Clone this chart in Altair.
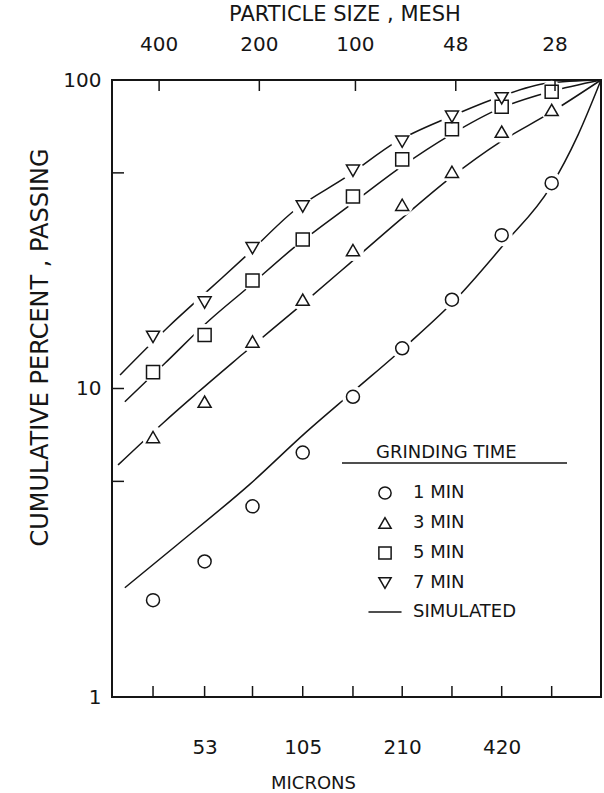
import altair as alt
import pandas as pd

# ---- data ----
sizes = [37, 53, 74, 105, 149, 210, 297, 420, 595]
min1 = [2.06, 2.75, 4.15, 6.2, 9.4, 13.5, 19.4, 31.4, 46.3]
min3 = [6.96, 9.06, 14.2, 19.4, 28.1, 39.4, 50.4, 68.0, 80.0]
min5 = [11.3, 14.9, 22.4, 30.4, 41.9, 55.3, 69.2, 81.9, 91.6]
min7_sizes = [37, 53, 74, 105, 149, 210, 297, 420]
min7 = [14.7, 19.0, 28.5, 38.9, 50.8, 63.1, 76.0, 87.2]

sim1_size = [30.4, 43.7, 72.7, 106.7, 151.1, 217.1, 307.6, 429.7, 588, 714.5, 839]
sim1_pct = [2.26, 3.11, 4.90, 7.17, 9.89, 13.84, 19.65, 29.6, 44.7, 66.3, 100]
sim3_size = [29.0, 39.7, 69.3, 103, 146, 206.8, 293, 415, 588, 839]
sim3_pct = [5.65, 7.73, 12.96, 18.5, 25.5, 35.2, 48.1, 62.9, 78.2, 100]
sim5_size = [30.4, 40.2, 55.0, 71.1, 98.3, 146, 209, 293, 415, 588, 839]
sim5_pct = [9.06, 12.07, 16.7, 21.1, 28.5, 39.3, 52.4, 66.3, 80.9, 91.6, 100]
sim7_size = [29.4, 41.2, 53.8, 70.2, 99.5, 142.6, 202, 293, 415, 574.6, 839]
sim7_pct = [11.06, 15.86, 20.6, 26.7, 37.9, 48.6, 63.1, 76.0, 88.3, 97.6, 100]

legend_domain = ["1 MIN", "3 MIN", "5 MIN", "7 MIN", "SIMULATED"]

bottom_tick_sizes = [37, 53, 74, 105, 149, 210, 297, 420, 595]
bottom_label_sizes = [53, 105, 210, 420]
mesh_labels = ["400", "200", "100", "48", "28"]
mesh_microns = [38.6, 77.6, 151.6, 305, 609]
y_label_values = [1, 10, 100]
y_tick_values = [5, 10, 50]

# ---- tables ----
pts = pd.concat([
    pd.DataFrame({"size": sizes, "pct": min1, "series": "1 MIN"}),
    pd.DataFrame({"size": sizes, "pct": min3, "series": "3 MIN"}),
    pd.DataFrame({"size": sizes, "pct": min5, "series": "5 MIN"}),
    pd.DataFrame({"size": min7_sizes, "pct": min7, "series": "7 MIN"}),
], ignore_index=True)

sim = pd.concat([
    pd.DataFrame({"size": sim1_size, "pct": sim1_pct, "curve": "1 MIN"}),
    pd.DataFrame({"size": sim3_size, "pct": sim3_pct, "curve": "3 MIN"}),
    pd.DataFrame({"size": sim5_size, "pct": sim5_pct, "curve": "5 MIN"}),
    pd.DataFrame({"size": sim7_size, "pct": sim7_pct, "curve": "7 MIN"}),
], ignore_index=True)

bticks = pd.DataFrame({"size": bottom_tick_sizes})
mesh = pd.DataFrame({"size": mesh_microns, "label": mesh_labels})
yticks = pd.DataFrame({"pct": y_tick_values})
one = pd.DataFrame({"t": ["PARTICLE SIZE , MESH"]})

INK = "#151515"
FONT = "DejaVu Sans"

x_scale = alt.Scale(type="log", domain=[27.8, 839], nice=False)
y_scale = alt.Scale(type="log", domain=[1, 100], nice=False)

x_axis = alt.Axis(values=bottom_label_sizes, format="d", title="MICRONS",
                  labelFontSize=20, labelPadding=40, labelFont=FONT, labelColor=INK,
                  titleFont=FONT, titleFontSize=18, titleFontWeight="normal", titleColor=INK,
                  titleX=201, titleY=86, titleBaseline="middle", titleAlign="center",
                  ticks=False, domain=False, grid=False)
y_axis = alt.Axis(values=y_label_values, format="d", title="CUMULATIVE PERCENT , PASSING",
                  labelFontSize=20, labelPadding=11, labelFont=FONT, labelColor=INK,
                  titleFont=FONT, titleFontSize=24, titleFontWeight="normal", titleColor=INK,
                  titleX=-72, titleY=267, titleAngle=270, titleBaseline="middle",
                  titleAlign="center", ticks=False, domain=False, grid=False)

X = alt.X("size:Q", scale=x_scale, axis=x_axis)
Y = alt.Y("pct:Q", scale=y_scale, axis=y_axis)

lines = alt.Chart(sim).mark_line(color=INK, strokeWidth=1.5, interpolate="monotone").encode(
    x=X, y=Y, detail="curve:N"
)

halo = alt.Chart(pts).mark_circle(color="white", opacity=1, size=480).encode(x=X, y=Y)

shape_scale = alt.Scale(
    domain=legend_domain,
    range=["circle", "triangle-up", "square", "triangle-down", "M-2.7,0L2.7,0"],
)

points = alt.Chart(pts).mark_point(
    filled=False, fill="white", color=INK, strokeWidth=1.5, size=170, opacity=1
).encode(
    x=X, y=Y,
    shape=alt.Shape("series:N", scale=shape_scale,
                    legend=alt.Legend(
                        title="GRINDING TIME", orient="none", legendX=264, legendY=364,
                        titleFont=FONT, titleFontSize=18, titleFontWeight="normal",
                        titleColor=INK, titlePadding=22, labelFont=FONT, labelFontSize=18,
                        labelColor=INK, labelOffset=19, symbolSize=150,
                        symbolStrokeWidth=1.5, rowPadding=11)),
)

bottom_ticks = alt.Chart(bticks).mark_rule(color=INK, strokeWidth=1.5).encode(
    x=X, y=alt.value(606), y2=alt.value(617)
)
top_ticks = alt.Chart(mesh).mark_rule(color=INK, strokeWidth=1.5).encode(
    x=X, y=alt.value(0), y2=alt.value(11)
)
top_labels = alt.Chart(mesh).mark_text(font=FONT, fontSize=20, color=INK, baseline="middle").encode(
    x=X, y=alt.value(-35), text="label:N"
)
left_ticks = alt.Chart(yticks).mark_rule(color=INK, strokeWidth=1.5).encode(
    y=Y, x=alt.value(0), x2=alt.value(12)
)
top_title = alt.Chart(one).mark_text(font=FONT, fontSize=21, color=INK, baseline="middle").encode(
    text="t:N", x=alt.value(233), y=alt.value(-65)
)
underline = alt.Chart(one).mark_rule(color=INK, strokeWidth=1.5).encode(
    x=alt.value(230), x2=alt.value(455), y=alt.value(383)
)

chart = alt.layer(
    lines, halo, points, bottom_ticks, top_ticks, top_labels, left_ticks, top_title, underline
).properties(
    width=489, height=617,
    autosize=alt.AutoSizeParams(type="none"),
    padding={"left": 112, "top": 80, "right": 3, "bottom": 96},
    background="white",
).configure_view(stroke=INK, strokeWidth=2)

chart.save("out.html", embed_options={"renderer": "svg", "actions": False})
